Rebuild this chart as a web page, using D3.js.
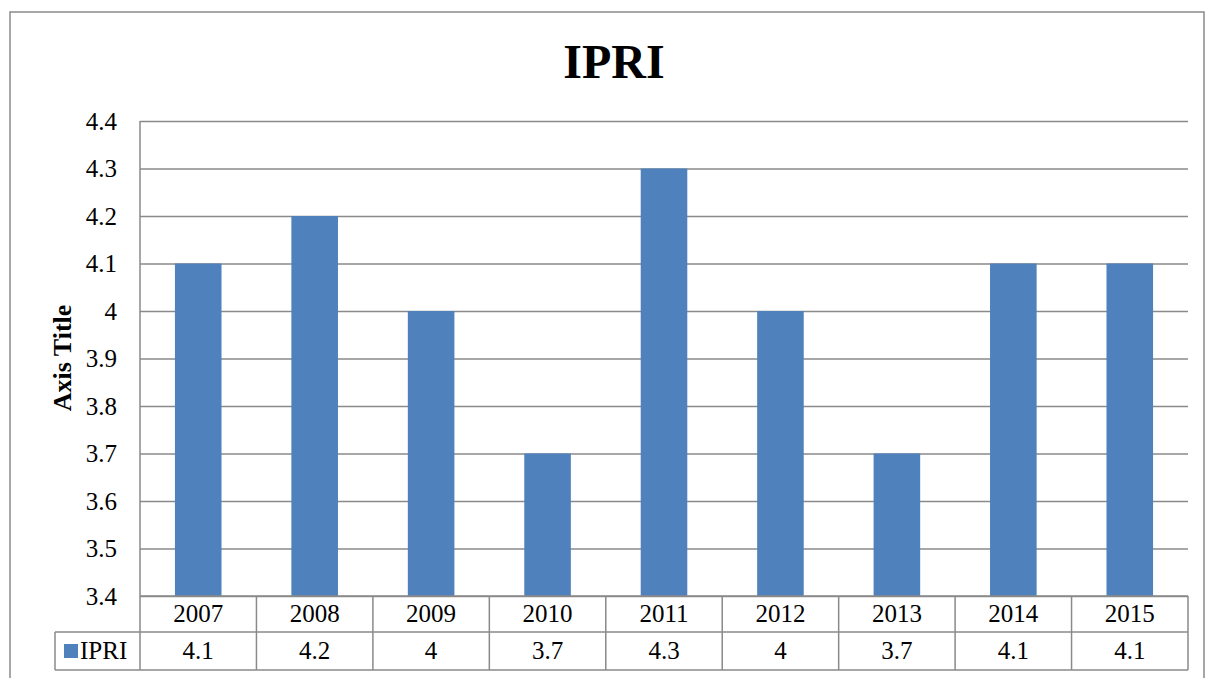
<!DOCTYPE html>
<html>
<head>
  <meta charset="utf-8">
  <title>IPRI</title>
  <script src="https://cdn.jsdelivr.net/npm/d3@7"></script>
  <style>
    body { margin: 0; background: #fff; }
    text { font-family: "Liberation Serif", "Times New Roman", "DejaVu Serif", serif; fill: #000; }
  </style>
</head>
<body>
<script>
  // chart data
  const years = ["2007", "2008", "2009", "2010", "2011", "2012", "2013", "2014", "2015"];
  const ipri = [4.1, 4.2, 4, 3.7, 4.3, 4, 3.7, 4.1, 4.1];
  const yTicks = [3.4, 3.5, 3.6, 3.7, 3.8, 3.9, 4, 4.1, 4.2, 4.3, 4.4];
  const seriesName = "IPRI";

  const W = 1206, H = 678;
  const plot = {left: 140, right: 1188, top: 121, bottom: 596};
  const rowH1 = 36, rowH2 = 38;
  const lineCol = "#8a8a8a";
  const serif = "'Liberation Serif', 'Times New Roman', serif";

  const svg = d3.select("body").append("svg")
    .attr("width", W).attr("height", H);

  // outer chart frame
  svg.append("rect")
    .attr("x", 10).attr("y", 12)
    .attr("width", 1194).attr("height", 700)
    .attr("fill", "none").attr("stroke", lineCol).attr("stroke-width", 1.5);

  // title
  svg.append("text")
    .attr("x", 614).attr("y", 78)
    .attr("text-anchor", "middle")
    .style("font-size", "48px").style("font-weight", "bold")
    .text(seriesName);

  const x = d3.scaleBand().domain(years).range([plot.left, plot.right]).padding(0);
  const xBar = d3.scaleBand().domain(years).range([plot.left, plot.right])
    .paddingInner(0.6).paddingOuter(0.3);
  const y = d3.scaleLinear().domain([3.4, 4.4]).range([plot.bottom, plot.top]);

  // gridlines + y labels
  const yAxis = svg.append("g")
    .attr("transform", `translate(${plot.left},0)`)
    .call(d3.axisLeft(y).tickValues(yTicks).tickSize(-(plot.right - plot.left))
      .tickFormat(d => d3.format("~g")(d)).tickPadding(23));
  yAxis.attr("font-family", null);
  yAxis.select(".domain").remove();
  yAxis.selectAll(".tick line").attr("stroke", lineCol).attr("stroke-width", 1.5);
  yAxis.selectAll(".tick text")
    .style("font-family", serif).style("font-size", "25px")
    .attr("fill", "#000");

  // bars
  svg.append("g").selectAll("rect")
    .data(ipri)
    .join("rect")
    .attr("x", (d, i) => xBar(years[i]))
    .attr("width", xBar.bandwidth())
    .attr("y", d => y(d))
    .attr("height", d => y(3.4) - y(d))
    .attr("fill", "#4F81BD");

  // left axis line extending through table
  svg.append("line")
    .attr("x1", plot.left).attr("x2", plot.left)
    .attr("y1", plot.top).attr("y2", plot.bottom + rowH1 + rowH2)
    .attr("stroke", lineCol).attr("stroke-width", 1.5);

  // data table
  const table = svg.append("g");
  const r1 = plot.bottom, r2 = plot.bottom + rowH1, r3 = r2 + rowH2;
  const tblLeft = 55;
  table.append("line").attr("x1", plot.left).attr("x2", plot.right)
    .attr("y1", r1).attr("y2", r1);
  table.append("line").attr("x1", tblLeft).attr("x2", plot.right)
    .attr("y1", r2).attr("y2", r2);
  table.append("line").attr("x1", tblLeft).attr("x2", plot.right)
    .attr("y1", r3).attr("y2", r3);
  table.append("line").attr("x1", tblLeft).attr("x2", tblLeft)
    .attr("y1", r2).attr("y2", r3);
  table.selectAll("line.col")
    .data(years)
    .join("line")
    .attr("class", "col")
    .attr("x1", d => x(d) + x.bandwidth()).attr("x2", d => x(d) + x.bandwidth())
    .attr("y1", r1).attr("y2", r3);
  table.selectAll("line").attr("stroke", lineCol).attr("stroke-width", 1.5);

  table.selectAll("text.yr")
    .data(years)
    .join("text")
    .attr("class", "yr")
    .attr("x", d => x(d) + x.bandwidth() / 2)
    .attr("y", r1 + 26)
    .attr("text-anchor", "middle")
    .style("font-size", "25px")
    .text(d => d);

  table.selectAll("text.val")
    .data(ipri)
    .join("text")
    .attr("class", "val")
    .attr("x", (d, i) => x(years[i]) + x.bandwidth() / 2)
    .attr("y", r2 + 27)
    .attr("text-anchor", "middle")
    .style("font-size", "25px")
    .text(d => d3.format("~g")(d));

  // legend key in table
  table.append("rect")
    .attr("x", 64).attr("y", r2 + 12)
    .attr("width", 14).attr("height", 14)
    .attr("fill", "#4F81BD");
  table.append("text")
    .attr("x", 80).attr("y", r2 + 27)
    .style("font-size", "25px")
    .text(seriesName);

  // axis title
  svg.append("text")
    .attr("transform", `translate(71,358) rotate(-90)`)
    .attr("text-anchor", "middle")
    .style("font-size", "26px").style("font-weight", "bold")
    .text("Axis Title");
</script>
</body>
</html>
